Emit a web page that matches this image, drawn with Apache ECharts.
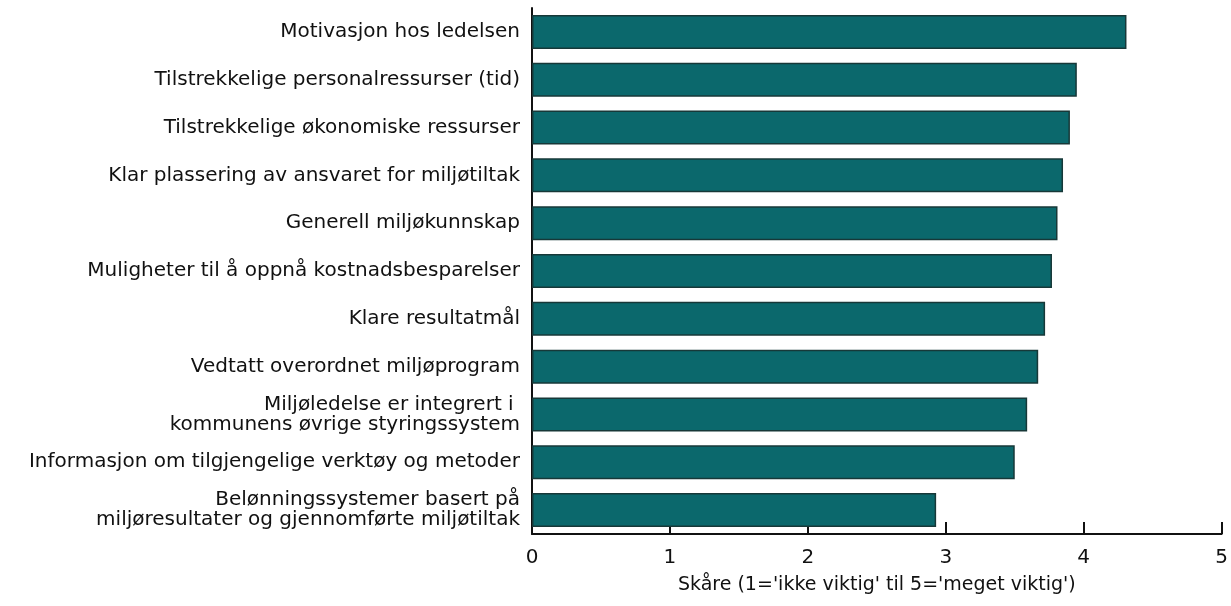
<!DOCTYPE html>
<html><head><meta charset="utf-8">
<script src="https://cdn.jsdelivr.net/npm/echarts@6/dist/echarts.min.js"></script>
<style>html,body{margin:0;padding:0;background:#fff}#c{width:1231px;height:606px}</style>
</head><body><div id="c"></div>
<script>
const categories = [
  "Motivasjon hos ledelsen",
  "Tilstrekkelige personalressurser (tid)",
  "Tilstrekkelige økonomiske ressurser",
  "Klar plassering av ansvaret for miljøtiltak",
  "Generell miljøkunnskap",
  "Muligheter til å oppnå kostnadsbesparelser",
  "Klare resultatmål",
  "Vedtatt overordnet miljøprogram",
  "Miljøledelse er integrert i \nkommunens øvrige styringssystem",
  "Informasjon om tilgjengelige verktøy og metoder",
  "Belønningssystemer basert på\nmiljøresultater og gjennomførte miljøtiltak"
];
const values = [4.31, 3.95, 3.90, 3.85, 3.81, 3.77, 3.72, 3.67, 3.59, 3.50, 2.93];
const xTicks = [0, 1, 2, 3, 4, 5];
const xAxisTitle = "Skåre (1='ikke viktig' til 5='meget viktig')";

const font = "DejaVu Sans";
const chart = echarts.init(document.getElementById('c'));
chart.setOption({
  animation: false,
  backgroundColor: '#fff',
  grid: { left: 532, right: 9, top: 8, bottom: 72, containLabel: false },
  xAxis: {
    type: 'value', min: xTicks[0], max: xTicks[xTicks.length-1], interval: 1,
    axisLine: { show: true, lineStyle: { color: '#111', width: 2 } },
    axisTick: { show: true, inside: true, length: 12, lineStyle: { color: '#111', width: 2 } },
    splitLine: { show: false },
    axisLabel: { color: '#111', fontFamily: font, fontSize: 20, margin: 14 },
    name: xAxisTitle, nameLocation: 'middle', nameGap: 42,
    nameTextStyle: { color: '#111', fontFamily: font, fontSize: 19 }
  },
  yAxis: {
    type: 'category', data: categories, inverse: true,
    axisLine: { show: true, lineStyle: { color: '#111', width: 2 } },
    axisTick: { show: false },
    axisLabel: { color: '#111', fontFamily: font, fontSize: 20, margin: 12, lineHeight: 20, align: 'right' }
  },
  series: [{
    type: 'bar', data: values, barWidth: 34,
    itemStyle: { color: '#0b686c', borderColor: '#173838', borderWidth: 1.5 },
    z: 1
  }]
});
</script></body></html>
